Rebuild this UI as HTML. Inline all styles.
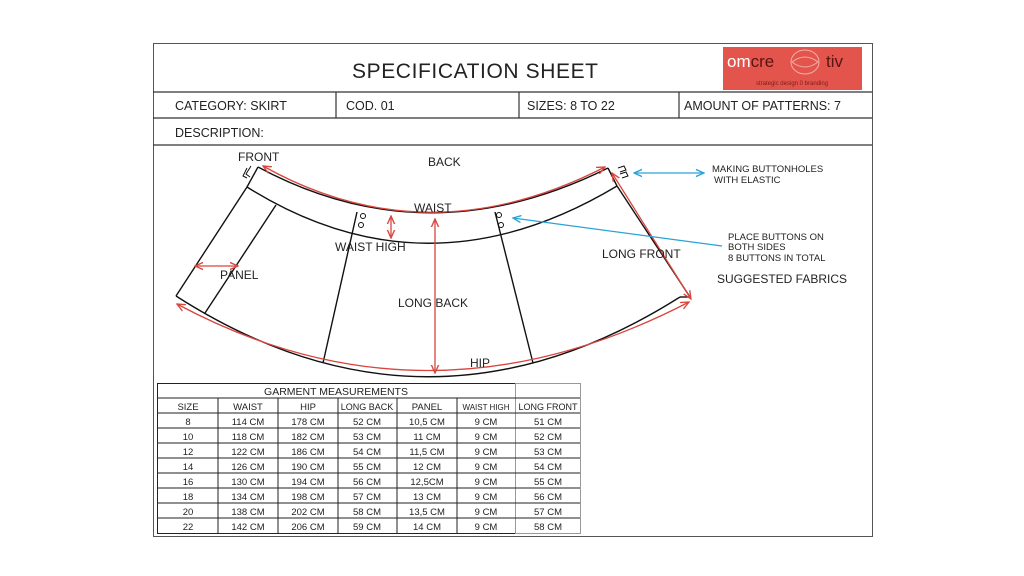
<!DOCTYPE html>
<html><head><meta charset="utf-8"><style>
body{margin:0;background:#fff;width:1024px;height:576px;overflow:hidden}
svg{display:block}
text{font-family:"Liberation Sans",Arial,sans-serif}
</style></head><body>
<svg width="1024" height="576" viewBox="0 0 1024 576" xmlns="http://www.w3.org/2000/svg">
<defs>
<marker id="r" viewBox="0 0 10 10" refX="9" refY="5" markerWidth="7" markerHeight="7" orient="auto-start-reverse"><path d="M0,1 L9,5 L0,9" fill="none" stroke="#d9463f" stroke-width="1.5"/></marker>
<marker id="b" viewBox="0 0 10 10" refX="9" refY="5" markerWidth="7" markerHeight="7" orient="auto-start-reverse"><path d="M0,1 L9,5 L0,9" fill="none" stroke="#2aa3d6" stroke-width="1.5"/></marker>
</defs>
<rect x="153.5" y="43.5" width="719" height="493" fill="none" stroke="#555" stroke-width="1"/>
<g stroke="#333" stroke-width="1.2">
<line x1="153" y1="92" x2="872" y2="92"/>
<line x1="153" y1="118" x2="872" y2="118"/>
<line x1="153" y1="145" x2="872" y2="145"/>
<line x1="336" y1="92" x2="336" y2="118"/>
<line x1="519" y1="92" x2="519" y2="118"/>
<line x1="679" y1="92" x2="679" y2="118"/>
</g>
<text x="475" y="78" font-size="21" text-anchor="middle" fill="#222" textLength="246">SPECIFICATION SHEET</text>
<text x="175" y="110" font-size="12.5" fill="#222">CATEGORY: SKIRT</text>
<text x="346" y="110" font-size="12.5" fill="#222">COD. 01</text>
<text x="527" y="110" font-size="12.5" fill="#222">SIZES:  8 TO 22</text>
<text x="684" y="110" font-size="12.5" fill="#222">AMOUNT OF PATTERNS: 7</text>
<text x="175" y="137" font-size="12.5" fill="#222">DESCRIPTION:</text>
<rect x="723" y="47" width="139" height="43" fill="#e2544c"/>
<text x="727" y="67" font-size="17" fill="#fff">om<tspan fill="#5a1512">cre</tspan></text>
<ellipse cx="805" cy="62" rx="14" ry="12" fill="none" stroke="#f3b0a8" stroke-width="1"/>
<path d="M792,62 Q805,52 818,62 M792,62 Q805,72 818,62" fill="none" stroke="#f3b0a8" stroke-width="1"/>
<text x="826" y="67" font-size="17" fill="#5a1512">tiv</text>
<text x="792" y="85" font-size="6" fill="#7a1e18" text-anchor="middle">strategic  design 0 branding</text>
<g fill="none" stroke="#111" stroke-width="1.4">
<path d="M258,167 Q427,258 608,168"/>
<path d="M247,187 Q427,300 617,186"/>
<path d="M176,296 Q427,457 680,297"/>
<line x1="258" y1="167" x2="247" y2="187"/>
<line x1="608" y1="168" x2="617" y2="186"/>
<line x1="247" y1="187" x2="176" y2="296"/>
<line x1="617" y1="186" x2="690" y2="297"/>
<line x1="680" y1="297" x2="690" y2="297"/>
<line x1="276" y1="205" x2="205" y2="313"/>
<line x1="357" y1="212" x2="323" y2="363"/>
<line x1="495" y1="212" x2="533" y2="363"/>
</g>
<g fill="none" stroke="#111" stroke-width="1">
<path d="M247,168 l-4,8 l4,2 M251,166 l-5,8 l4,3"/>
<path d="M618,168 l6,-2 l2,4 l-6,2 M620,174 l6,-2 l2,4 l-6,2"/>
<circle cx="363" cy="216" r="2.5"/><circle cx="361" cy="225" r="2.5"/>
<circle cx="499" cy="215" r="2.5"/><circle cx="501" cy="225" r="2.5"/>
</g>
<g fill="none" stroke="#d9463f" stroke-width="1.3">
<path d="M263,166 Q427,258 605,167" marker-start="url(#r)" marker-end="url(#r)"/>
<path d="M177,304 Q427,438 689,302" marker-start="url(#r)" marker-end="url(#r)"/>
<line x1="435" y1="219" x2="435" y2="373" marker-start="url(#r)" marker-end="url(#r)"/>
<line x1="391" y1="216" x2="391" y2="238" marker-start="url(#r)" marker-end="url(#r)"/>
<line x1="195" y1="266" x2="238" y2="266" marker-start="url(#r)" marker-end="url(#r)"/>
<line x1="612" y1="173" x2="691" y2="299" marker-start="url(#r)" marker-end="url(#r)"/>
</g>
<g fill="none" stroke="#2aa3d6" stroke-width="1.3">
<line x1="634" y1="173" x2="704" y2="173" marker-start="url(#b)" marker-end="url(#b)"/>
<line x1="513" y1="218" x2="722" y2="246" marker-start="url(#b)"/>
</g>
<g font-size="12" fill="#222">
<text x="238" y="161">FRONT</text>
<text x="428" y="166">BACK</text>
<text x="414" y="212">WAIST</text>
<text x="335" y="251">WAIST HIGH</text>
<text x="220" y="279">PANEL</text>
<text x="398" y="307">LONG BACK</text>
<text x="470" y="367">HIP</text>
<text x="602" y="258">LONG FRONT</text>
<text x="717" y="283" font-size="12">SUGGESTED FABRICS</text>
</g>
<g font-size="9.5" fill="#222">
<text x="712" y="172">MAKING BUTTONHOLES</text>
<text x="714" y="183">WITH ELASTIC</text>
<text x="728" y="240">PLACE BUTTONS ON</text>
<text x="728" y="250">BOTH SIDES</text>
<text x="728" y="261">8 BUTTONS IN TOTAL</text>
</g>
<g stroke="#222" stroke-width="1" fill="none">
<rect x="157.5" y="383.5" width="358" height="150"/>
<rect x="515.5" y="383.5" width="65" height="150" stroke="#999"/>
<line x1="157" y1="398" x2="580" y2="398"/>
<line x1="157" y1="413" x2="580" y2="413"/>
<line x1="157" y1="428" x2="580" y2="428"/>
<line x1="157" y1="443" x2="580" y2="443"/>
<line x1="157" y1="458" x2="580" y2="458"/>
<line x1="157" y1="473" x2="580" y2="473"/>
<line x1="157" y1="488" x2="580" y2="488"/>
<line x1="157" y1="503" x2="580" y2="503"/>
<line x1="157" y1="518" x2="580" y2="518"/>
<line x1="218" y1="398" x2="218" y2="533"/>
<line x1="278" y1="398" x2="278" y2="533"/>
<line x1="338" y1="398" x2="338" y2="533"/>
<line x1="397" y1="398" x2="397" y2="533"/>
<line x1="457" y1="398" x2="457" y2="533"/>
</g>
<g font-size="9.5" fill="#222" text-anchor="middle">
<text x="336" y="395" font-size="10.5">GARMENT MEASUREMENTS</text>
<text x="188" y="410">SIZE</text><text x="248" y="410">WAIST</text><text x="308" y="410">HIP</text><text x="367" y="410" font-size="9">LONG BACK</text><text x="427" y="410">PANEL</text><text x="486" y="410" font-size="8">WAIST HIGH</text><text x="548" y="410" font-size="9">LONG FRONT</text>
<text x="188" y="425">8</text><text x="248" y="425">114 CM</text><text x="308" y="425">178 CM</text><text x="367" y="425">52 CM</text><text x="427" y="425">10,5 CM</text><text x="486" y="425">9 CM</text><text x="548" y="425">51 CM</text>
<text x="188" y="440">10</text><text x="248" y="440">118 CM</text><text x="308" y="440">182 CM</text><text x="367" y="440">53 CM</text><text x="427" y="440">11 CM</text><text x="486" y="440">9 CM</text><text x="548" y="440">52 CM</text>
<text x="188" y="455">12</text><text x="248" y="455">122 CM</text><text x="308" y="455">186 CM</text><text x="367" y="455">54 CM</text><text x="427" y="455">11,5 CM</text><text x="486" y="455">9 CM</text><text x="548" y="455">53 CM</text>
<text x="188" y="470">14</text><text x="248" y="470">126 CM</text><text x="308" y="470">190 CM</text><text x="367" y="470">55 CM</text><text x="427" y="470">12 CM</text><text x="486" y="470">9 CM</text><text x="548" y="470">54 CM</text>
<text x="188" y="485">16</text><text x="248" y="485">130 CM</text><text x="308" y="485">194 CM</text><text x="367" y="485">56 CM</text><text x="427" y="485">12,5CM</text><text x="486" y="485">9 CM</text><text x="548" y="485">55 CM</text>
<text x="188" y="500">18</text><text x="248" y="500">134 CM</text><text x="308" y="500">198 CM</text><text x="367" y="500">57 CM</text><text x="427" y="500">13 CM</text><text x="486" y="500">9 CM</text><text x="548" y="500">56 CM</text>
<text x="188" y="515">20</text><text x="248" y="515">138 CM</text><text x="308" y="515">202 CM</text><text x="367" y="515">58 CM</text><text x="427" y="515">13,5 CM</text><text x="486" y="515">9 CM</text><text x="548" y="515">57 CM</text>
<text x="188" y="530">22</text><text x="248" y="530">142 CM</text><text x="308" y="530">206 CM</text><text x="367" y="530">59 CM</text><text x="427" y="530">14 CM</text><text x="486" y="530">9 CM</text><text x="548" y="530">58 CM</text>
</g>
</svg>
</body></html>
